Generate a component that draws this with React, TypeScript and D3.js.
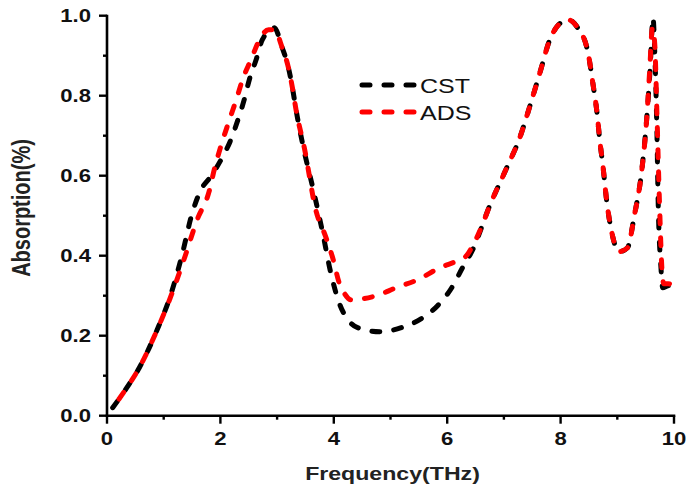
import React from 'react';
import * as d3 from 'd3';

// CST simulation (black)
const cstFreq = [0.1, 0.35, 0.57, 0.87, 1.13, 1.32, 1.5, 1.64, 1.84, 1.93, 2.03, 2.17, 2.31, 2.42, 2.51, 2.63, 2.74, 2.95, 3.09, 3.2, 3.27, 3.34, 3.48, 3.63, 3.8, 3.95, 4.1, 4.25, 4.42, 4.81, 5.19, 5.57, 5.83, 6.08, 6.27, 6.45, 6.75, 7.05, 7.28, 7.46, 7.63, 7.81, 7.95, 8.13, 8.3, 8.48, 8.57, 8.64, 8.69, 8.75, 8.81, 8.9, 9.03, 9.18, 9.3, 9.42, 9.52, 9.58, 9.63, 9.66, 9.7, 9.72, 9.77, 9.8, 9.9, 10];
const cstAbs = [0.02, 0.07, 0.12, 0.21, 0.305, 0.4, 0.505, 0.56, 0.6, 0.62, 0.645, 0.685, 0.74, 0.79, 0.84, 0.89, 0.94, 0.97, 0.92, 0.87, 0.82, 0.76, 0.66, 0.57, 0.46, 0.355, 0.28, 0.24, 0.22, 0.21, 0.22, 0.245, 0.275, 0.32, 0.37, 0.415, 0.525, 0.62, 0.695, 0.775, 0.855, 0.94, 0.975, 0.99, 0.97, 0.91, 0.83, 0.76, 0.69, 0.62, 0.54, 0.46, 0.41, 0.42, 0.5, 0.6, 0.745, 0.87, 0.995, 0.91, 0.7, 0.54, 0.37, 0.32, 0.325, 0.32];

// ADS circuit model (red)
const adsFreq = [0.1, 0.35, 0.57, 0.87, 1.13, 1.38, 1.59, 1.8, 1.9, 2.0, 2.16, 2.28, 2.39, 2.54, 2.69, 2.85, 2.95, 3.09, 3.2, 3.27, 3.34, 3.48, 3.69, 3.85, 3.98, 4.1, 4.19, 4.3, 4.75, 5.1, 5.48, 5.87, 6.22, 6.34, 6.45, 6.6, 6.75, 7.05, 7.28, 7.46, 7.63, 7.81, 7.95, 8.13, 8.3, 8.48, 8.57, 8.64, 8.69, 8.75, 8.81, 8.9, 9.03, 9.18, 9.3, 9.42, 9.52, 9.57, 9.62, 9.66, 9.7, 9.74, 9.79, 9.82, 9.9, 10];
const adsAbs = [0.02, 0.07, 0.12, 0.21, 0.3, 0.4, 0.49, 0.56, 0.62, 0.67, 0.74, 0.79, 0.84, 0.89, 0.94, 0.965, 0.965, 0.92, 0.87, 0.82, 0.76, 0.67, 0.51, 0.45, 0.395, 0.33, 0.305, 0.29, 0.3, 0.32, 0.34, 0.37, 0.39, 0.4, 0.425, 0.47, 0.525, 0.62, 0.695, 0.775, 0.855, 0.94, 0.975, 0.99, 0.97, 0.91, 0.83, 0.76, 0.69, 0.62, 0.54, 0.46, 0.41, 0.42, 0.5, 0.6, 0.745, 0.86, 0.97, 0.93, 0.75, 0.55, 0.36, 0.33, 0.33, 0.32];

const xTicks = [0, 2, 4, 6, 8, 10];
const xMinor = [1, 3, 5, 7, 9];
const yTicks = [0, 0.2, 0.4, 0.6, 0.8, 1.0];
const yMinor = [0.1, 0.3, 0.5, 0.7, 0.9];

const series = [
  { name: 'CST', freq: cstFreq, abs: cstAbs, color: '#000000', offset: 0 },
  { name: 'ADS', freq: adsFreq, abs: adsAbs, color: '#ff0000', offset: 11 },
];

const W = 686;
const H = 489;
const SX = 1.25; // the original figure is stretched horizontally
const font = 'Arial, "Liberation Sans", sans-serif';

export default function App() {
  const x = d3.scaleLinear().domain([0, 10]).range([107, 674]);
  const y = d3.scaleLinear().domain([0, 1]).range([415.7, 15.7]);

  const line = d3.line<[number, number]>()
    .x(d => x(d[0]))
    .y(d => y(d[1]))
    .curve(d3.curveMonotoneX);

  const x0 = x(0);
  const y0 = y(0);

  return (
    <svg width={W} height={H} style={{ position: 'absolute', left: 0, top: 0, background: '#fff' }}>
      {/* curves */}
      {series.map(s => (
        <path
          key={s.name}
          d={line(s.freq.map((f, i) => [f, s.abs[i]] as [number, number])) || ''}
          fill="none"
          stroke={s.color}
          strokeWidth={5}
          strokeDasharray="8,14"
          strokeDashoffset={s.offset}
          strokeLinecap="round"
        />
      ))}

      {/* axes */}
      <line x1={x0} x2={x0} y1={y(1) - 1} y2={y0 + 1.3} stroke="#000" strokeWidth={2.6} />
      <line x1={x0 - 1.3} x2={x(10) + 1.3} y1={y0} y2={y0} stroke="#000" strokeWidth={2.6} />

      {yTicks.map(t => (
        <g key={'y' + t}>
          <line x1={x0 - 8} x2={x0} y1={y(t)} y2={y(t)} stroke="#000" strokeWidth={2.4} />
          <g transform={`translate(${x0 - 16},${y(t) + 6.4}) scale(${SX},1)`}>
            <text textAnchor="end" fontFamily={font} fontWeight="bold" fontSize={17.7} fill="#111">
              {t.toFixed(1)}
            </text>
          </g>
        </g>
      ))}
      {yMinor.map(t => (
        <line key={'ym' + t} x1={x0 - 4} x2={x0} y1={y(t)} y2={y(t)} stroke="#000" strokeWidth={2.4} />
      ))}

      {xTicks.map(t => (
        <g key={'x' + t}>
          <line x1={x(t)} x2={x(t)} y1={y0} y2={y0 + 8} stroke="#000" strokeWidth={2.4} />
          <g transform={`translate(${x(t)},${445}) scale(${SX},1)`}>
            <text textAnchor="middle" fontFamily={font} fontWeight="bold" fontSize={17.7} fill="#111">
              {t}
            </text>
          </g>
        </g>
      ))}
      {xMinor.map(t => (
        <line key={'xm' + t} x1={x(t)} x2={x(t)} y1={y0} y2={y0 + 4} stroke="#000" strokeWidth={2.4} />
      ))}

      {/* axis titles */}
      <g transform={`translate(${(x(0) + x(10)) / 2 + 2},${480}) scale(${SX},1)`}>
        <text textAnchor="middle" fontFamily={font} fontWeight="bold" fontSize={18.5} fill="#222">
          Frequency(THz)
        </text>
      </g>
      <g transform={`translate(${30},${208}) scale(${SX},1) rotate(-90)`}>
        <text textAnchor="middle" fontFamily={font} fontWeight="bold" fontSize={20} fill="#222">
          Absorption(%)
        </text>
      </g>

      {/* legend */}
      {series.map((s, i) => (
        <g key={'lg' + s.name} transform={`translate(0,${85 + i * 27})`}>
          <line
            x1={362} x2={414} y1={0} y2={0}
            stroke={s.color} strokeWidth={5} strokeDasharray="8,14" strokeLinecap="round"
          />
          <g transform={`translate(420,${7.5}) scale(${SX},1)`}>
            <text fontFamily={font} fontSize={20} fill="#111">{s.name}</text>
          </g>
        </g>
      ))}
    </svg>
  );
}
